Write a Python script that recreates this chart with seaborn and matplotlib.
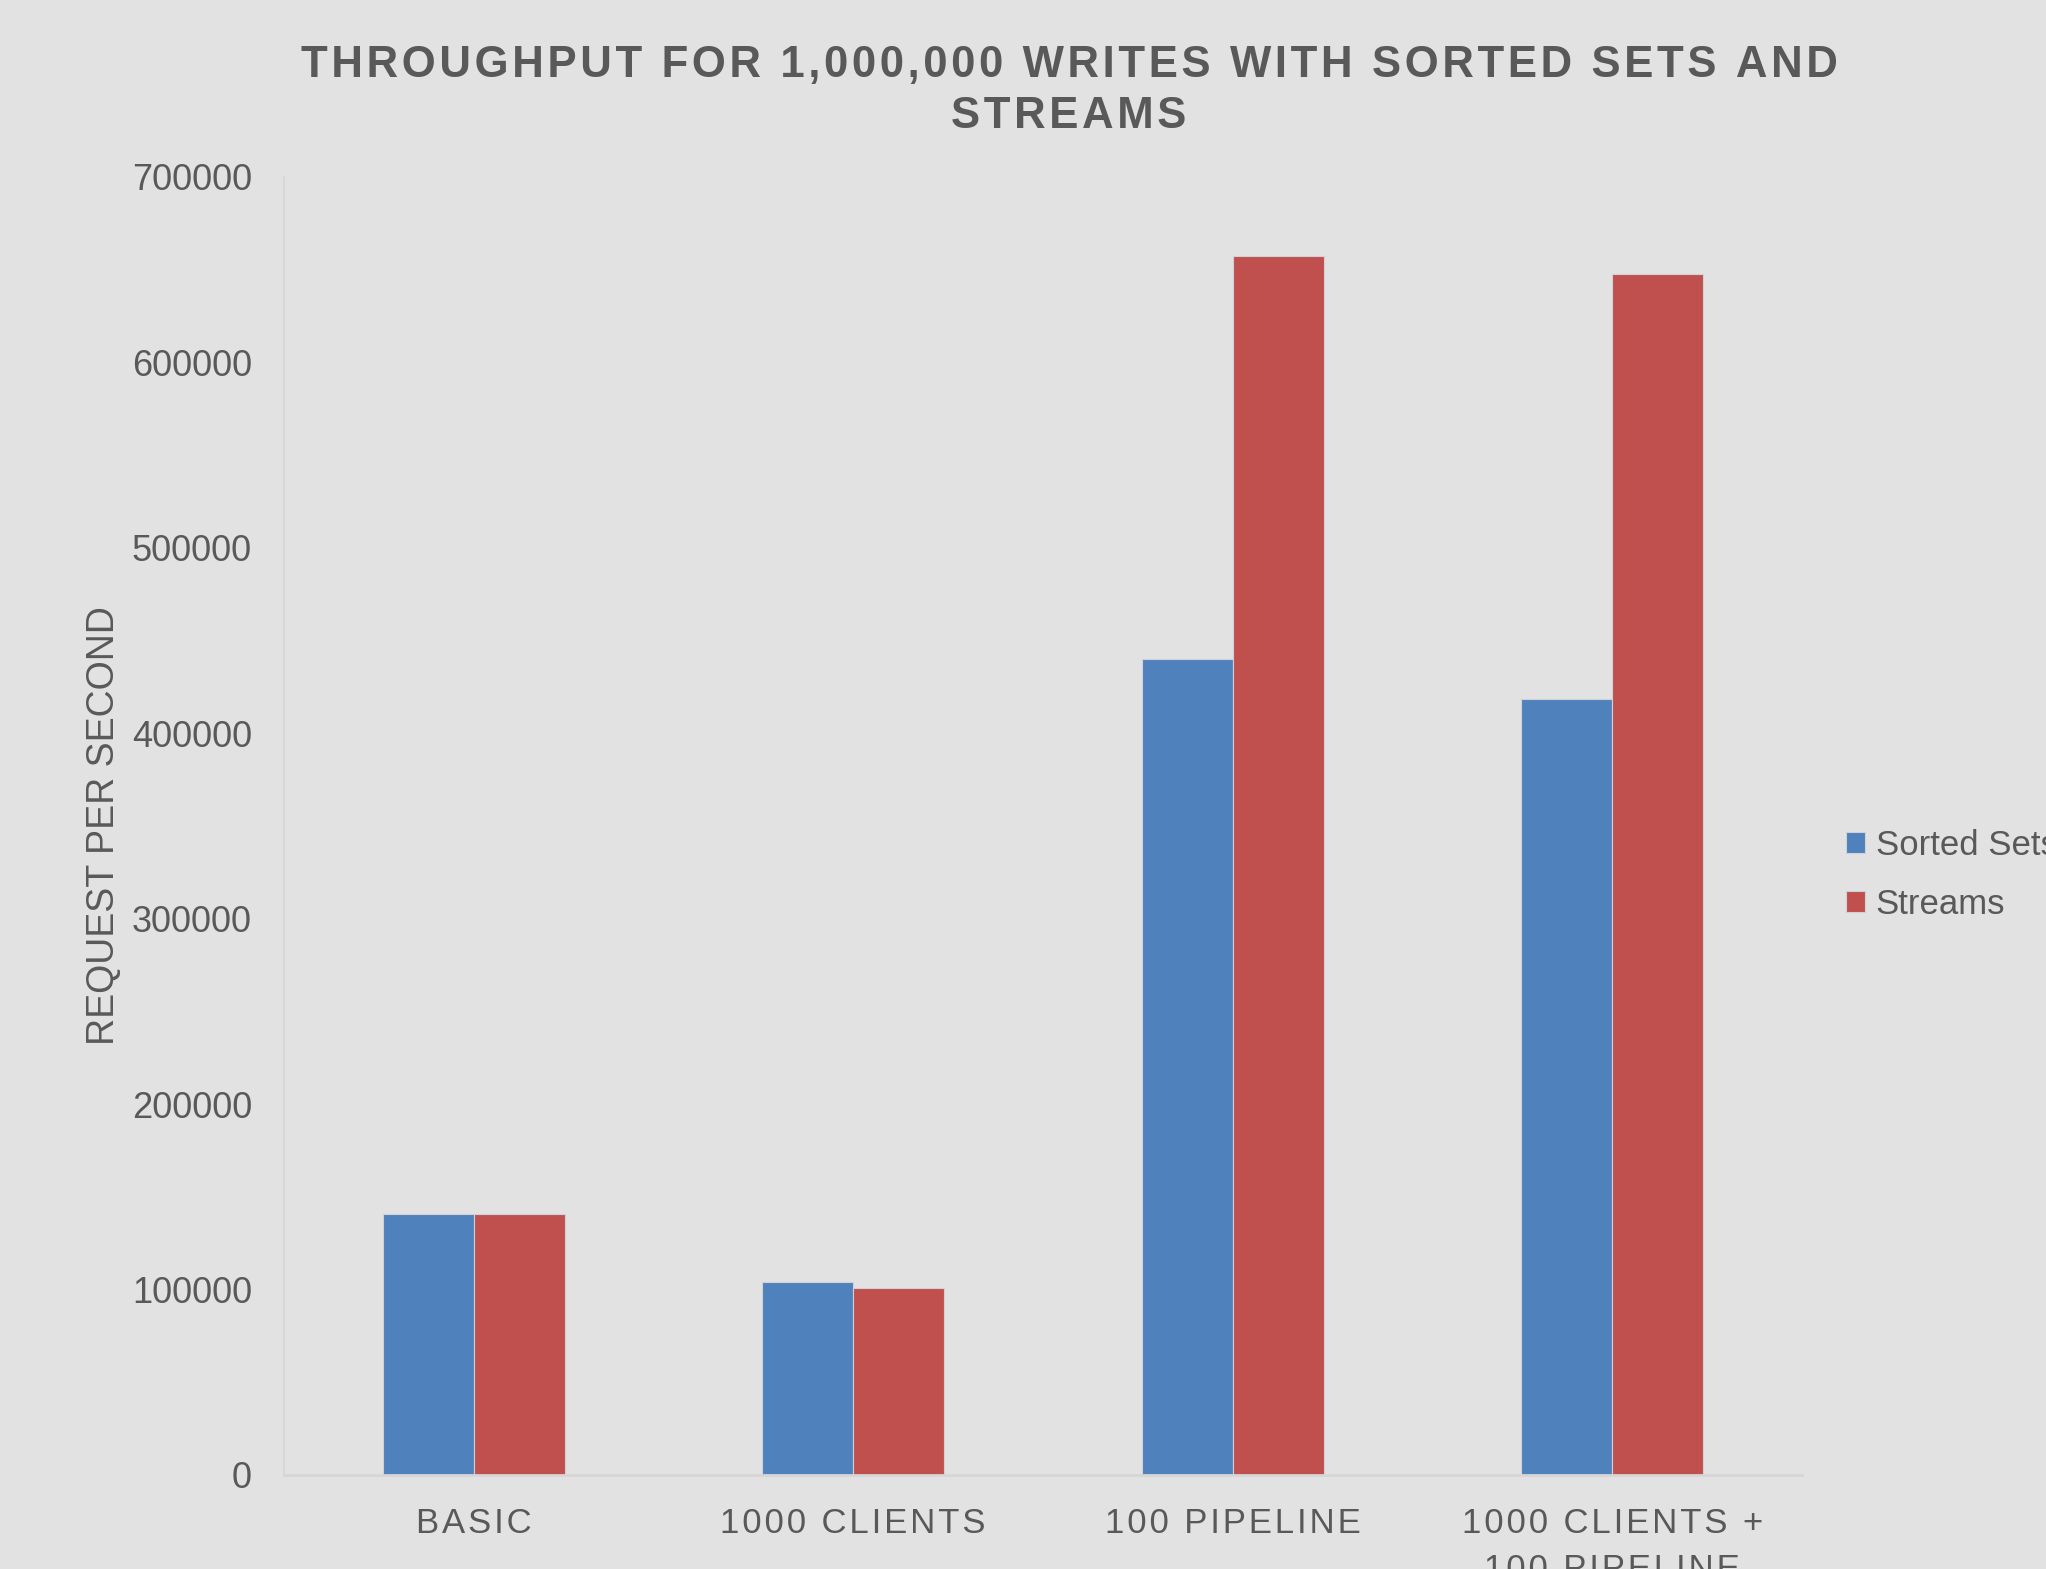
import pandas as pd
import matplotlib.pyplot as plt
import seaborn as sns

# values
categories = ["BASIC", "1000 CLIENTS", "100 PIPELINE", "1000 CLIENTS +\n100 PIPELINE"]
sorted_sets = [140500, 104000, 440000, 418500]
streams = [140500, 101000, 657500, 647500]
series_names = ["Sorted Sets", "Streams"]
title = "THROUGHPUT FOR 1,000,000 WRITES WITH SORTED SETS AND\nSTREAMS"

bg = "#e2e2e2"
txt = "#595959"
palette = ["#4f81bd", "#c0504d"]


def spaced(s):
    # excel draws these labels with extra letter spacing
    return "\n".join("\u200a".join(line) for line in s.split("\n"))


df = pd.DataFrame({
    "category": categories * 2,
    "value": sorted_sets + streams,
    "series": [series_names[0]] * len(categories) + [series_names[1]] * len(categories),
})

sns.set_style("white")
plt.rcParams['font.family'] = ['Liberation Sans', 'DejaVu Sans']

fig = plt.figure(figsize=(20.46, 15.69), dpi=100, facecolor=bg)
ax = fig.add_axes([284 / 2046, 1 - 1475 / 1569, (1802 - 284) / 2046, (1475 - 177) / 1569])
ax.set_facecolor(bg)

sns.barplot(data=df, x="category", y="value", hue="series", order=categories,
            hue_order=series_names, palette=palette, width=0.48, errorbar=None,
            saturation=1, edgecolor="#d0d0d8", linewidth=0.8, ax=ax)

ax.set_ylim(0, 700000)
ax.set_xlim(-0.5, 3.5)
ax.set_yticks(range(0, 700001, 100000))
ax.set_yticklabels([str(v) for v in range(0, 700001, 100000)])
ax.set_xticks(range(len(categories)))
ax.set_xticklabels([spaced(c) for c in categories])
ax.tick_params(axis="y", length=0, pad=23, labelsize=26, labelcolor=txt)
ax.tick_params(axis="x", length=0, pad=23, labelsize=25, labelcolor=txt)
for lab in ax.get_xticklabels():
    lab.set_linespacing(1.5)

ax.set_xlabel("")
ax.set_ylabel("REQUEST PER SECOND", fontsize=27, color=txt)
ax.yaxis.set_label_coords(122 / 2046, 1 - 826 / 1569, transform=fig.transFigure)

for side in ["top", "right"]:
    ax.spines[side].set_visible(False)
ax.spines["left"].set_color("#d6d6d6")
ax.spines["left"].set_linewidth(1.2)
ax.spines["bottom"].set_color("#d6d6d6")
ax.spines["bottom"].set_linewidth(2)

fig.text(1069 / 2046, 1 - 45 / 1569, spaced(title),
         ha="center", va="top", fontsize=31.5, fontweight="bold", color=txt, linespacing=1.3)

handles, labels = ax.get_legend_handles_labels()
ax.legend(handles, labels, loc="center left", bbox_to_anchor=(1846 / 2046, 1 - 875 / 1569),
          bbox_transform=fig.transFigure, frameon=False, fontsize=25, labelcolor=txt,
          handlelength=0.55, handleheight=0.55, handletextpad=0.3, borderpad=0,
          borderaxespad=0, labelspacing=0.75)

plt.savefig("out.png", dpi=100, facecolor=bg)
